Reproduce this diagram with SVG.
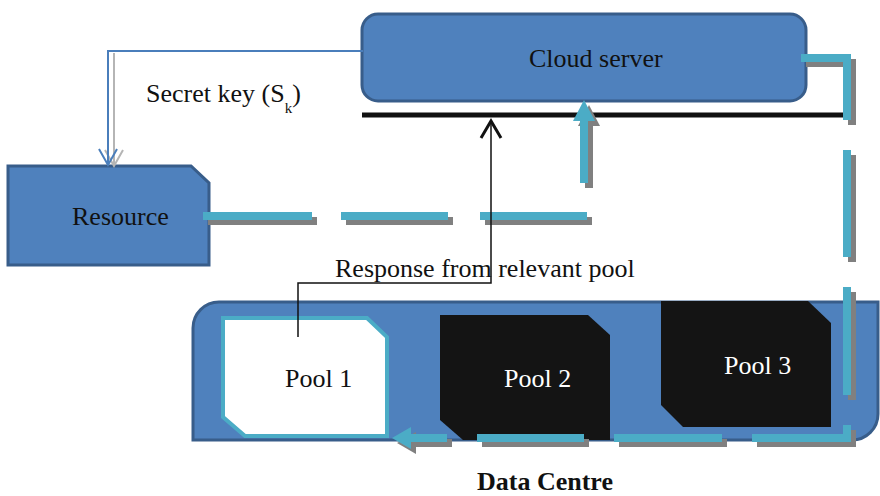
<svg xmlns="http://www.w3.org/2000/svg" xmlns:xlink="http://www.w3.org/1999/xlink" width="880" height="496" viewBox="0 0 880 496">
<style>
.t{font-family:"Liberation Serif","Times New Roman",serif;font-size:26px;fill:#111}
.w{fill:#fff}
.b{font-weight:bold}
.box{fill:#4f81bd;stroke:#385d8a;stroke-width:3}
.pool{fill:#141414}
</style>
<defs>
<g id="flow">
<path fill="none" stroke-width="8" d="M203,216H312M341,216H448M480,216H587M584,183V118M801,58H847V120M847,150V257M847,287V395M847,425V438H752M722,438H614M584,438H477M447,438H408"/>
<polygon stroke="none" points="573,121 584,100 595,121"/>
<polygon stroke="none" points="411,427 392,438 411,449"/>
</g>
</defs>
<rect width="880" height="496" fill="#fff"/>
<g id="cloud-server">
<rect class="box" x="362" y="14" width="444" height="87" rx="16"/>
<text class="t" x="529" y="67">Cloud server</text>
</g>
<g id="resource">
<path class="box" d="M8,166H191L209,183V265H8Z"/>
<text class="t" x="72" y="225">Resource</text>
</g>
<g id="data-centre">
<path class="box" d="M193,440V328A26,26 0 0 1 219,302H878V414A26,26 0 0 1 852,440Z"/>
<text class="t b" x="477" y="490">Data Centre</text>
</g>
<g id="pool1">
<path d="M223,318H367L387,337V436H245L223,417Z" fill="#fff" stroke="#4bacc6" stroke-width="4"/>
<text class="t" x="285" y="387">Pool 1</text>
</g>
<g id="pool2">
<path class="pool" d="M440,315H588L610,335V440H463L440,420Z"/>
<text class="t w" x="504" y="387">Pool 2</text>
</g>
<g id="pool3">
<path class="pool" d="M661,301H808L831,323V427H683L661,405Z"/>
<text class="t w" x="724" y="374">Pool 3</text>
</g>
<g id="connectors">
<line x1="362" y1="115" x2="845" y2="115" stroke="#111" stroke-width="5"/>
<g fill="none" stroke="#b5b5b5" stroke-width="2" transform="translate(6,1)">
<path d="M108,52V163"/>
<polyline points="99,149 108,165 117,149"/>
</g>
<g fill="none" stroke="#4a7ebb" stroke-width="2">
<path d="M363,51H108V164"/>
<polyline points="99,149 108,165 117,149"/>
</g>
<use xlink:href="#flow" stroke="#808080" fill="#808080" transform="translate(5,5)"/>
<use xlink:href="#flow" stroke="#4bacc6" fill="#4bacc6"/>
<g fill="none" stroke="#111">
<path d="M298,337V283H491V123" stroke-width="1.5"/>
<polyline points="481,138 491,121 501,138" stroke-width="3"/>
</g>
</g>
<text class="t" x="146" y="102">Secret key (S<tspan font-size="15" dy="11">k</tspan><tspan dy="-11">)</tspan></text>
<text class="t" x="335" y="277">Response from relevant pool</text>
</svg>
